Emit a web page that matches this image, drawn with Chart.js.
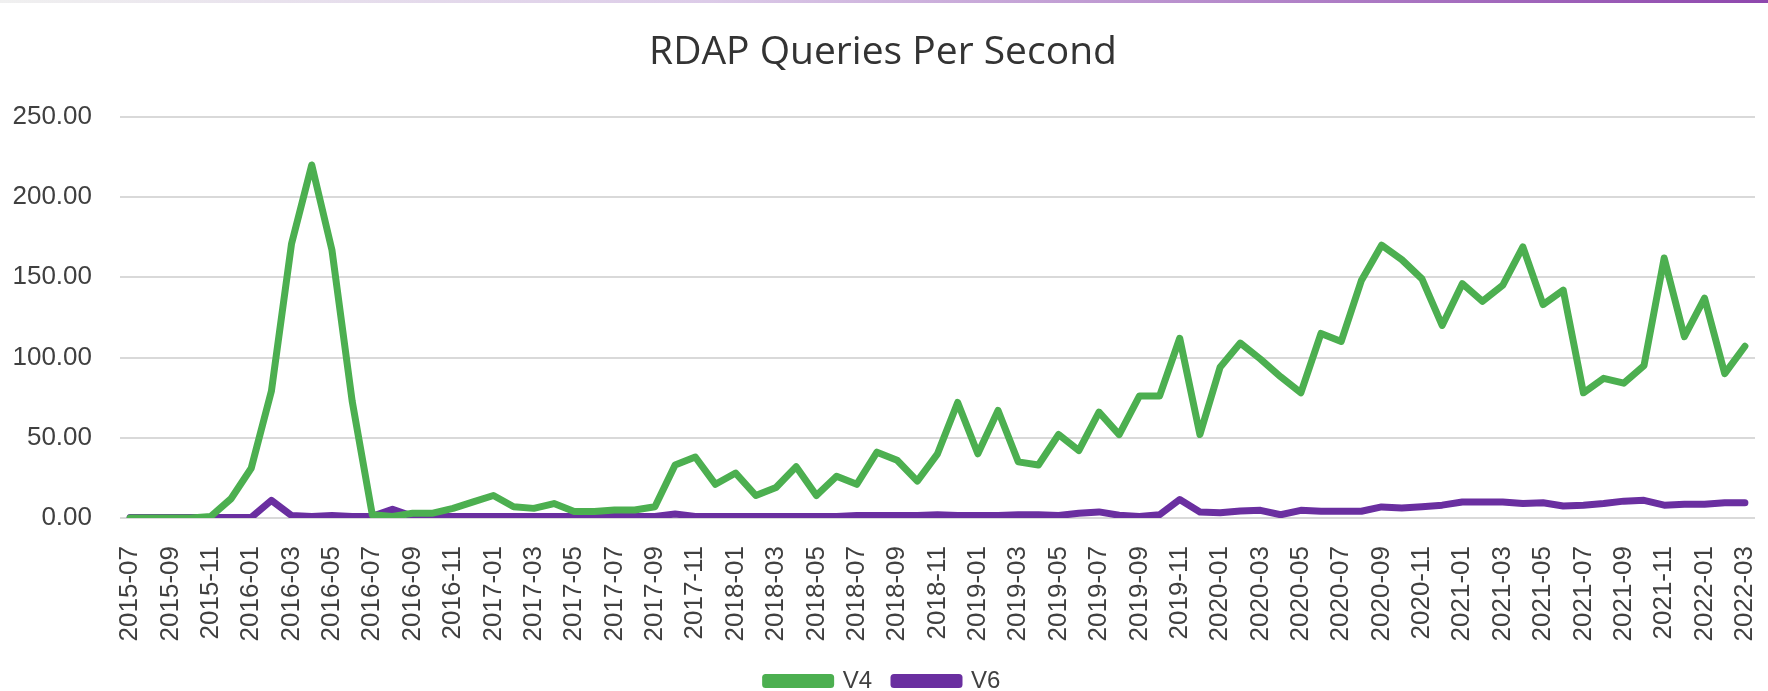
<!DOCTYPE html>
<html>
<head>
<meta charset="utf-8">
<title>RDAP Queries Per Second</title>
<script src="https://cdn.jsdelivr.net/npm/chart.js@4/dist/chart.umd.min.js"></script>
<style>
  body { margin: 0; background: #fff; }
  #wrap { position: relative; width: 1768px; height: 691px; }
  #band { position: absolute; left: 0; top: 0; width: 1768px; height: 3px;
          background: linear-gradient(to right, #f0f0f0, #dccbe8 40%, #8e47ad); }
</style>
</head>
<body>
<div id="wrap">
  <div id="band"></div>
  <canvas id="myChart"></canvas>
</div>
<script>
// meses (eixo X)
const meses = [
  '2015-07','2015-08','2015-09','2015-10','2015-11','2015-12',
  '2016-01','2016-02','2016-03','2016-04','2016-05','2016-06','2016-07','2016-08','2016-09','2016-10','2016-11','2016-12',
  '2017-01','2017-02','2017-03','2017-04','2017-05','2017-06','2017-07','2017-08','2017-09','2017-10','2017-11','2017-12',
  '2018-01','2018-02','2018-03','2018-04','2018-05','2018-06','2018-07','2018-08','2018-09','2018-10','2018-11','2018-12',
  '2019-01','2019-02','2019-03','2019-04','2019-05','2019-06','2019-07','2019-08','2019-09','2019-10','2019-11','2019-12',
  '2020-01','2020-02','2020-03','2020-04','2020-05','2020-06','2020-07','2020-08','2020-09','2020-10','2020-11','2020-12',
  '2021-01','2021-02','2021-03','2021-04','2021-05','2021-06','2021-07','2021-08','2021-09','2021-10','2021-11','2021-12',
  '2022-01','2022-02','2022-03'
];

// consultas por segundo - IPv4
const v4 = [
  0, 0, 0, 0, 1, 12,
  31, 79, 171, 220, 167, 73, 2, 1, 3, 3, 6, 10,
  14, 7, 6, 9, 4, 4, 5, 5, 7, 33, 38, 21,
  28, 14, 19, 32, 14, 26, 21, 41, 36, 23, 40, 72,
  40, 67, 35, 33, 52, 42, 66, 52, 76, 76, 112, 52,
  94, 109, 99, 88, 78, 115, 110, 148, 170, 161, 149, 120,
  146, 135, 145, 169, 133, 142, 78, 87, 84, 95, 162, 113,
  137, 90, 107
];

// consultas por segundo - IPv6
const v6 = [
  0.3, 0.3, 0.3, 0.3, 0.3, 0.3,
  0.3, 11, 1.5, 1, 1.5, 1, 1, 5.5, 1, 1, 1, 1,
  1, 1, 1, 1, 1, 1, 1, 1, 1, 2.5, 1, 1,
  1, 1, 1, 1, 1, 1, 1.5, 1.5, 1.5, 1.5, 2, 1.5,
  1.5, 1.5, 2, 2, 1.5, 3, 3.8, 1.7, 1, 2, 11.5, 3.7,
  3.3, 4.4, 4.8, 2, 4.8, 4.2, 4.2, 4.2, 6.9, 6.2, 7, 8,
  10, 10, 10, 9, 9.5, 7.5, 8, 9, 10.5, 11, 8, 8.5,
  8.5, 9.5, 9.5
];

const escalaY = { min: 0, max: 250, passo: 50 };

const verde = '#4caf50';
const roxo = '#6a2fa0';
const cinzaTexto = '#404040';

const ctx = document.getElementById('myChart').getContext('2d');
new Chart(ctx, {
  type: 'line',
  data: {
    labels: meses,
    datasets: [
      { label: 'V4', data: v4, borderColor: verde, backgroundColor: verde },
      { label: 'V6', data: v6, borderColor: roxo, backgroundColor: roxo }
    ]
  },
  options: {
    responsive: true,
    maintainAspectRatio: false,
    devicePixelRatio: 1,
    animation: false,
    layout: { padding: { left: 11, right: 13, top: 0, bottom: -12 } },
    elements: {
      line: { borderWidth: 7, tension: 0, borderJoinStyle: 'round', borderCapStyle: 'round' },
      point: { radius: 0, hoverRadius: 0 }
    },
    plugins: {
      title: {
        display: true,
        text: 'RDAP Queries Per Second',
        color: '#333333',
        font: { family: 'Open Sans', size: 39, weight: 'normal' },
        padding: { top: 29, bottom: 41 }
      },
      legend: {
        position: 'bottom',
        labels: {
          boxWidth: 65,
          boxHeight: 7,
          padding: 22,
          color: cinzaTexto,
          font: { family: 'Liberation Sans', size: 24 }
        }
      },
      tooltip: { enabled: false }
    },
    scales: {
      x: {
        offset: true,
        grid: { display: false },
        border: { display: false },
        ticks: {
          autoSkip: false,
          minRotation: 90,
          maxRotation: 90,
          padding: 20,
          color: cinzaTexto,
          font: { family: 'Liberation Sans', size: 26 },
          callback: function (val, i) { return i % 2 === 0 ? meses[i] : ''; }
        },
        afterFit: function (scale) {
          scale.height = 129;
          scale.paddingLeft = 0;
          scale.paddingRight = 0;
        }
      },
      y: {
        min: escalaY.min,
        max: escalaY.max,
        grid: { color: '#d9d9d9', lineWidth: 2, drawTicks: false },
        border: { display: false },
        ticks: {
          stepSize: escalaY.passo,
          padding: 28,
          color: cinzaTexto,
          font: { family: 'Liberation Sans', size: 26 },
          callback: v => v.toFixed(2)
        },
        afterFit: function (scale) { scale.width = 109; }
      }
    }
  }
});
</script>
</body>
</html>
